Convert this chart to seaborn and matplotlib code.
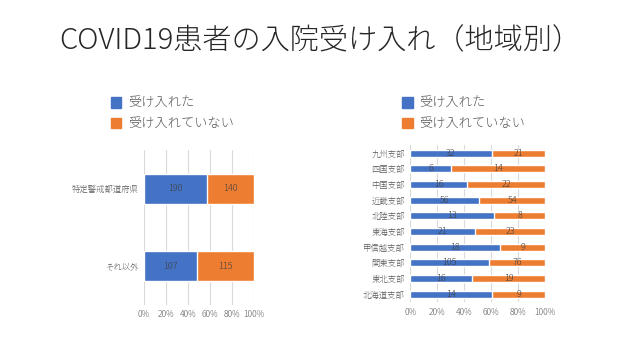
import pandas as pd
import matplotlib.pyplot as plt
import seaborn as sns
from matplotlib.patches import Patch
from matplotlib.ticker import PercentFormatter

# データ
pref_labels = ['特定警戒都道府県', 'それ以外']
pref_accepted = [190, 107]
pref_not = [140, 115]

region_labels = ['九州支部', '四国支部', '中国支部', '近畿支部', '北陸支部',
                 '東海支部', '甲信越支部', '関東支部', '東北支部', '北海道支部']
region_accepted = [32, 6, 16, 56, 13, 21, 18, 105, 16, 14]
region_not = [21, 14, 22, 54, 8, 23, 9, 76, 19, 9]

series_names = ['受け入れた', '受け入れていない']

BLUE = '#4472C4'
ORANGE = '#ED7D31'
GREY = '#595959'

sns.set_style('white')
plt.rcParams['font.family'] = ['Noto Sans CJK JP', 'DejaVu Sans']
plt.rcParams['font.weight'] = 'light'


def stacked_100(ax, labels, accepted, not_accepted, width):
    df = pd.DataFrame({'label': labels, 'a': accepted, 'n': not_accepted})
    df['total'] = df['a'] + df['n']
    df['share_a'] = df['a'] / df['total'] * 100
    df['full'] = 100.0
    sns.barplot(data=df, x='full', y='label', orient='h', color=ORANGE,
                width=width, saturation=1, ax=ax)
    sns.barplot(data=df, x='share_a', y='label', orient='h', color=BLUE,
                width=width, saturation=1, ax=ax)
    for i, row in df.iterrows():
        ax.text(row['share_a'] / 2, i, str(row['a']), ha='center', va='center',
                fontsize=6.5, color='#404040')
        ax.text((row['share_a'] + 100) / 2, i, str(row['n']), ha='center',
                va='center', fontsize=6.5, color='#404040')
    ax.set_xlim(0, 100)
    ax.set_ylim(len(labels) - 0.5, -0.5)
    ax.set_xticks([0, 20, 40, 60, 80, 100])
    ax.xaxis.set_major_formatter(PercentFormatter(decimals=0))
    ax.set_xlabel('')
    ax.set_ylabel('')
    ax.grid(axis='x', color='#D9D9D9', linewidth=0.8)
    ax.set_axisbelow(True)
    sns.despine(ax=ax, left=True, bottom=True)
    ax.tick_params(length=0, labelsize=6, labelcolor=GREY, pad=4)


fig = plt.figure(figsize=(6.4, 3.6), dpi=100)
ax1 = fig.add_axes([0.225, 0.153, 0.172, 0.43])
ax2 = fig.add_axes([0.641, 0.161, 0.211, 0.435])

stacked_100(ax1, pref_labels, pref_accepted, pref_not, 0.39)
stacked_100(ax2, region_labels, region_accepted, region_not, 0.45)

handles = [Patch(color=BLUE), Patch(color=ORANGE)]
for x0 in (0.165, 0.62):
    fig.legend(handles, series_names, loc='upper left',
               bbox_to_anchor=(x0, 0.745), frameon=False, fontsize=9.5,
               labelcolor=GREY, handlelength=0.8, handleheight=0.8,
               handletextpad=0.5, labelspacing=0.6, borderaxespad=0)

fig.text(0.5, 0.885, 'COVID19患者の入院受け入れ（地域別）', ha='center',
         va='center', fontsize=21, color='#262626', fontweight='light')

fig.savefig('out.png', dpi=100)
